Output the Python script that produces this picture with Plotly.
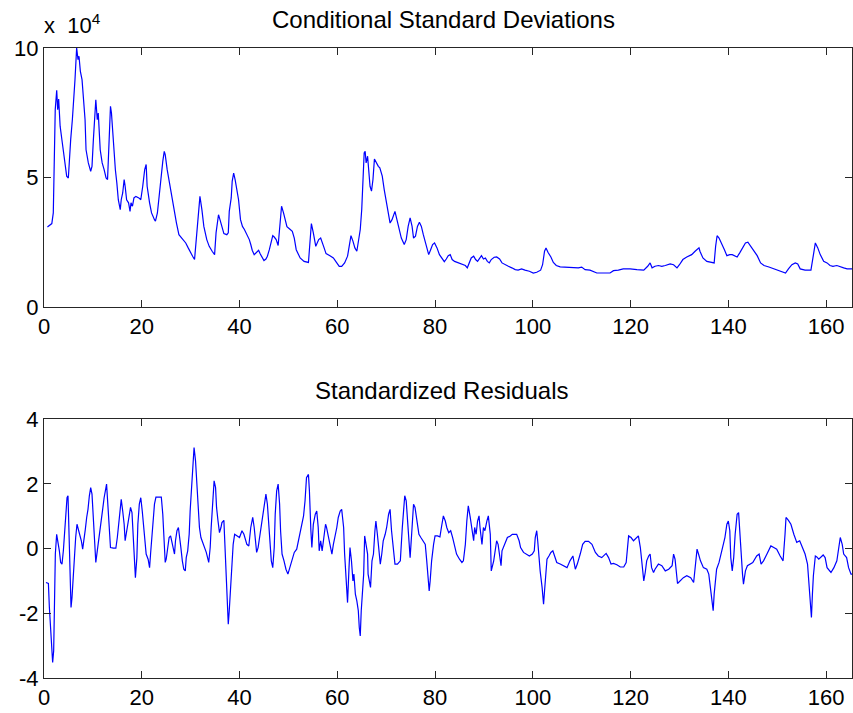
import plotly.graph_objects as go

# Conditional standard deviations (units of 1e4)
sd_x = [
    0.7, 1.6, 1.9, 2.05, 2.3, 2.6, 2.8, 3.0, 3.3, 3.75,
    4.16, 4.64, 4.98, 5.18, 5.46, 5.8, 6.0, 6.34, 6.68, 6.96,
    7.16, 7.44, 7.78, 8.05, 8.4, 8.6, 9.07, 9.55, 9.82, 10.1,
    10.4, 10.6, 10.9, 11.1, 11.5, 11.9, 12.3, 12.7, 13.0, 13.2,
    13.4, 13.6, 13.8, 14.0, 14.3, 14.6, 14.9, 15.2, 15.6, 15.8,
    16.1, 16.4, 16.6, 16.9, 17.3, 17.6, 17.8, 18.1, 18.4, 18.8,
    19.4, 19.8, 20.2, 20.6, 20.9, 21.1, 21.6, 22.0, 22.6, 22.8,
    23.2, 23.6, 24.0, 24.3, 24.6, 24.8, 25.2, 25.6, 26.1, 26.6,
    27.1, 27.6, 28.0, 28.5, 29.0, 29.5, 30.0, 30.4, 30.8, 31.2,
    31.7, 31.9, 32.3, 32.7, 33.3, 33.8, 34.4, 34.9, 35.2, 35.5,
    35.7, 36.0, 36.4, 36.8, 37.4, 37.7, 37.9, 38.3, 38.5, 38.8,
    39.1, 39.4, 39.8, 40.2, 40.6, 41.0, 41.5, 42.0, 42.3, 42.6,
    43.0, 43.4, 43.9, 44.2, 44.6, 45.0, 45.4, 45.7, 46.1, 46.5,
    46.8, 47.1, 47.5, 47.9, 48.2, 48.4, 48.6, 49.0, 49.3, 49.7,
    50.2, 50.8, 51.2, 51.6, 52.4, 53.2, 54.1, 54.4, 54.7, 55.1,
    55.6, 56.2, 56.6, 57.2, 57.7, 58.5, 59.2, 59.9, 60.4, 60.9,
    61.5, 62.1, 62.4, 62.8, 63.2, 63.6, 64.0, 64.3, 64.7, 65.0,
    65.2, 65.5, 65.7, 65.9, 66.2, 66.4, 66.7, 67.0, 67.3, 67.6,
    67.9, 68.4, 68.7, 69.2, 69.6, 70.0, 70.4, 70.8, 71.2, 71.5,
    71.8, 72.2, 72.6, 73.1, 73.7, 74.1, 74.5, 74.9, 75.3, 75.6,
    76.0, 76.4, 76.8, 77.2, 77.6, 78.2, 78.7, 79.1, 79.5, 79.9,
    80.4, 80.9, 81.5, 81.9, 82.3, 82.7, 83.1, 83.5, 84.0, 84.7,
    85.5, 86.2, 86.6, 87.0, 87.4, 87.9, 88.3, 88.7, 89.1, 89.5,
    89.9, 90.3, 90.7, 91.1, 91.5, 92.1, 92.6, 93.2, 93.7, 94.3,
    95.0, 95.7, 96.4, 97.0, 97.7, 98.4, 99.3, 100.1, 100.8, 101.6,
    102.0, 102.4, 102.7, 103.1, 103.7, 104.2, 104.8, 105.6, 107.0, 108.3,
    109.3, 110.0, 110.7, 111.7, 113.1, 114.4, 115.8, 116.5, 117.5, 118.5,
    119.9, 121.3, 122.7, 123.5, 124.0, 124.4, 125.0, 125.7, 126.4, 127.1,
    127.6, 128.1, 128.8, 129.5, 130.0, 130.7, 131.5, 132.5, 133.2, 134.0,
    134.2, 134.8, 135.6, 136.6, 137.1, 137.4, 137.7, 138.1, 138.6, 139.2,
    139.7, 140.3, 140.8, 141.2, 141.8, 142.3, 142.9, 143.5, 144.0, 144.5,
    145.2, 145.9, 146.6, 147.3, 148.3, 149.3, 150.4, 151.3, 151.7, 152.3,
    153.0, 153.7, 154.2, 154.7, 155.7, 156.9, 157.3, 157.8, 158.3, 158.8,
    159.5, 160.2, 160.8, 161.4, 162.2, 162.9, 163.6, 164.3, 165.3,
]
sd_val = [
    3.09, 3.22, 3.63, 5.62, 7.62, 8.37, 7.62, 8.03, 6.98, 6.33,
    5.69, 5.05, 4.98, 5.69, 6.46, 7.23, 8.0, 8.78, 10.0, 9.55,
    9.68, 9.1, 8.78, 8.0, 7.23, 6.07, 5.56, 5.24, 5.43, 6.46,
    7.55, 8.0, 7.23, 7.49, 6.07, 5.56, 5.30, 4.98, 4.92, 6.01,
    7.1, 7.75, 7.49, 6.85, 5.82, 5.30, 4.79, 4.14, 3.76, 4.14,
    4.40, 4.92, 4.66, 4.14, 4.02, 3.69, 4.02, 3.89, 4.21, 4.27,
    4.21, 4.14, 4.66, 5.30, 5.50, 4.66, 4.02, 3.63, 3.37, 3.31,
    3.63, 4.40, 5.17, 5.62, 6.01, 5.88, 5.30, 4.85, 4.27, 3.76,
    3.24, 2.79, 2.70, 2.60, 2.47, 2.28, 2.08, 1.96, 1.83, 2.79,
    3.89, 4.27, 3.76, 3.11, 2.60, 2.34, 2.15, 2.02, 2.86, 3.44,
    3.56, 3.37, 3.11, 2.83, 2.79, 2.86, 3.69, 4.21, 4.85, 5.17,
    4.92, 4.53, 4.14, 3.37, 3.11, 2.99, 2.79, 2.60, 2.41, 2.19,
    2.02, 2.08, 2.19, 2.06, 1.89, 1.79, 1.85, 1.96, 2.21, 2.47,
    2.75, 2.70, 2.60, 2.37, 3.11, 3.63, 3.89, 3.63, 3.35, 3.10,
    3.02, 2.92, 2.66, 2.21, 1.89, 1.76, 1.72, 2.60, 3.22, 2.86,
    2.34, 2.60, 2.66, 2.34, 2.06, 1.98, 1.89, 1.70, 1.57, 1.57,
    1.70, 1.96, 2.34, 2.75, 2.54, 2.28, 2.15, 2.60, 2.99, 3.76,
    4.53, 5.95, 6.01, 5.56, 5.82, 5.17, 4.66, 4.47, 4.92, 5.71,
    5.59, 5.43, 5.37, 5.05, 4.53, 4.14, 3.76, 3.24, 3.37, 3.56,
    3.69, 3.37, 3.05, 2.66, 2.41, 2.60, 3.11, 3.44, 3.11, 2.66,
    2.73, 3.11, 3.27, 3.11, 2.79, 2.34, 2.02, 2.21, 2.41, 2.47,
    2.28, 2.02, 1.83, 1.75, 1.85, 1.98, 2.02, 1.83, 1.76, 1.70,
    1.63, 1.60, 1.51, 1.70, 1.89, 1.96, 1.83, 1.76, 1.89, 1.98,
    1.85, 1.89, 1.76, 1.70, 1.83, 1.92, 1.93, 1.85, 1.70, 1.63,
    1.57, 1.51, 1.44, 1.42, 1.47, 1.42, 1.38, 1.31, 1.34, 1.42,
    1.63, 2.15, 2.28, 2.11, 1.93, 1.72, 1.60, 1.55, 1.53, 1.54,
    1.51, 1.54, 1.44, 1.42, 1.31, 1.31, 1.31, 1.40, 1.42, 1.47,
    1.47, 1.44, 1.42, 1.57, 1.70, 1.51, 1.57, 1.60, 1.57, 1.60,
    1.63, 1.66, 1.63, 1.51, 1.63, 1.83, 1.93, 2.02, 2.15, 2.28,
    2.15, 1.89, 1.76, 1.70, 1.70, 2.34, 2.75, 2.66, 2.47, 2.21,
    1.98, 2.02, 2.02, 1.98, 1.93, 2.08, 2.28, 2.47, 2.50, 2.37,
    2.21, 1.98, 1.70, 1.60, 1.54, 1.47, 1.42, 1.34, 1.31, 1.47,
    1.63, 1.70, 1.66, 1.47, 1.42, 1.42, 1.89, 2.47, 2.28, 2.02,
    1.76, 1.70, 1.60, 1.57, 1.60, 1.54, 1.51, 1.47, 1.47,
]

# Standardized residuals
resid_x = [
    0.4, 0.9, 1.1, 1.36, 1.57, 1.77, 1.98, 2.18, 2.32, 2.59,
    2.86, 3.14, 3.41, 3.68, 3.96, 4.23, 4.5, 4.71, 4.91, 5.12,
    5.32, 5.53, 5.73, 5.93, 6.21, 6.48, 6.75, 7.03, 7.3, 7.64,
    7.91, 8.19, 8.46, 8.73, 9.0, 9.28, 9.55, 9.82, 10.1, 10.4,
    10.6, 10.9, 11.2, 11.5, 11.7, 12.0, 12.3, 12.6, 12.8, 13.1,
    13.4, 13.6, 14.2, 14.7, 15.0, 15.3, 15.6, 15.8, 16.1, 16.4,
    16.6, 16.9, 17.2, 17.5, 17.7, 18.0, 18.3, 18.5, 18.7, 19.0,
    19.2, 19.5, 19.8, 20.1, 20.3, 20.6, 20.9, 21.3, 21.6, 21.8,
    22.1, 22.4, 22.6, 22.9, 23.5, 24.0, 24.3, 24.6, 24.8, 25.0,
    25.3, 25.6, 25.9, 26.1, 26.4, 26.7, 26.9, 27.2, 27.5, 27.8,
    28.0, 28.3, 28.6, 28.9, 29.1, 29.4, 29.7, 29.9, 30.2, 30.5,
    30.7, 31.0, 31.2, 31.5, 31.8, 32.1, 32.6, 33.2, 33.7, 34.0,
    34.2, 34.5, 34.8, 35.1, 35.3, 35.6, 35.9, 36.2, 36.4, 36.8,
    37.1, 37.4, 37.7, 37.9, 38.2, 38.5, 38.7, 39.0, 39.6, 40.0,
    40.5, 40.9, 41.5, 41.9, 42.3, 42.7, 43.0, 43.2, 43.5, 43.8,
    44.1, 44.3, 44.6, 44.9, 45.2, 45.4, 45.7, 46.0, 46.2, 46.5,
    46.8, 47.1, 47.3, 47.6, 47.9, 48.2, 48.4, 48.7, 49.1, 49.5,
    49.9, 50.3, 50.8, 51.2, 51.7, 52.1, 52.4, 52.7, 53.1, 53.4,
    53.7, 54.1, 54.3, 54.6, 54.8, 55.1, 55.5, 55.8, 56.1, 56.3,
    56.6, 56.9, 57.2, 57.6, 57.8, 58.2, 58.5, 58.9, 59.2, 59.6,
    59.9, 60.2, 60.6, 60.9, 61.3, 61.5, 61.8, 62.1, 62.4, 62.6,
    62.9, 63.2, 63.4, 63.7, 64.0, 64.3, 64.5, 64.7, 64.9, 65.2,
    65.4, 65.6, 65.9, 66.2, 66.3, 66.6, 66.8, 67.1, 67.4, 67.7,
    67.9, 68.2, 68.5, 68.8, 69.1, 69.4, 69.8, 70.1, 70.5, 70.8,
    71.1, 71.4, 71.8, 72.3, 72.9, 73.3, 73.5, 73.8, 74.1, 74.4,
    74.6, 74.9, 75.3, 75.6, 75.9, 76.3, 76.7, 77.1, 77.6, 78.0,
    78.3, 78.6, 78.8, 79.0, 79.3, 79.7, 80.0, 80.5, 81.0, 81.3,
    81.7, 82.1, 82.4, 82.8, 83.2, 83.6, 84.0, 84.4, 85.0, 85.5,
    85.8, 86.2, 86.5, 86.8, 87.2, 87.5, 87.9, 88.1, 88.4, 88.7,
    89.0, 89.2, 89.6, 89.9, 90.2, 90.6, 90.9, 91.3, 91.5, 92.0,
    92.3, 92.6, 92.9, 93.2, 93.5, 93.7, 94.0, 94.4, 94.8, 95.4,
    95.8, 96.2, 96.7, 97.2, 97.5, 98.1, 98.8, 99.3, 99.9, 100.3,
    100.5, 100.8, 101.0, 101.2, 101.5, 101.9, 102.2, 102.4, 102.7, 102.9,
    103.3, 103.7, 104.1, 104.5, 104.9, 105.6, 106.3, 107.0, 107.6, 108.2,
    108.7, 109.1, 109.7, 110.2, 110.7, 111.4, 112.1, 112.8, 113.4, 114.1,
    115.0, 115.5, 116.0, 116.5, 117.2, 117.9, 118.6, 119.1, 119.6, 120.1,
    120.6, 121.2, 121.6, 122.0, 122.3, 122.7, 123.0, 123.3, 123.7, 124.0,
    124.3, 124.7, 125.0, 125.7, 126.4, 127.1, 127.8, 128.5, 128.8, 129.1,
    129.6, 130.2, 130.8, 131.5, 132.3, 132.9, 133.2, 133.6, 133.9, 134.3,
    134.9, 135.6, 136.0, 136.3, 136.6, 136.9, 137.1, 137.4, 137.6, 138.1,
    138.5, 138.9, 139.3, 139.7, 140.0, 140.3, 140.5, 140.8, 141.1, 141.4,
    141.8, 142.1, 142.3, 142.6, 142.9, 143.1, 143.5, 143.9, 144.5, 145.0,
    145.8, 146.3, 146.7, 147.2, 147.9, 148.7, 149.3, 149.9, 150.6, 151.2,
    151.6, 151.8, 152.3, 152.8, 153.4, 154.0, 154.6, 155.0, 155.7, 156.2,
    156.5, 156.8, 157.0, 157.2, 157.4, 157.8, 158.1, 158.5, 158.9, 159.4,
    159.8, 160.2, 161.0, 161.6, 162.2, 162.6, 162.9, 163.3, 163.6, 164.2,
    164.6, 165.1, 165.3,
]
resid_val = [
    -1.05, -1.08, -1.82, -2.39, -2.95, -3.52, -3.16, -1.72, -0.17, 0.44,
    0.24, -0.07, -0.43, -0.48, -0.07, 0.65, 1.06, 1.57, 1.63, 0.44,
    -0.90, -1.82, -1.51, -0.90, -0.28, 0.34, 0.75, 0.60, 0.44, 0.24,
    -0.02, 0.24, 0.60, 0.96, 1.21, 1.63, 1.88, 1.68, 0.85, -0.07,
    -0.43, -0.07, 0.24, 0.60, 0.85, 1.21, 1.57, 1.93, 1.99, 1.27,
    0.55, 0.03, 0.01, 0.01, 0.34, 0.85, 1.37, 1.52, 1.16, 0.75,
    0.24, 0.55, 0.85, 1.06, 1.27, 1.11, 0.24, -0.59, -0.90, -0.28,
    0.75, 1.37, 1.57, 1.16, 0.75, 0.24, -0.17, -0.33, -0.59, -0.17,
    0.44, 0.96, 1.37, 1.59, 1.59, 1.59, 1.06, 0.24, -0.43, -0.33,
    0.03, 0.34, 0.39, 0.24, 0.08, -0.17, 0.24, 0.55, 0.65, 0.34,
    0.03, -0.38, -0.64, -0.69, -0.28, -0.07, 0.44, 1.16, 1.99, 2.60,
    3.12, 2.71, 2.09, 1.32, 0.65, 0.34, 0.13, -0.12, -0.43, 0.03,
    0.65, 1.37, 2.09, 1.88, 1.27, 0.85, 0.49, 0.65, 0.80, 0.87,
    -0.17, -1.41, -2.34, -1.92, -1.20, -0.48, 0.13, 0.44, 0.39, 0.34,
    0.55, 0.44, 0.13, 0.08, 0.65, 0.96, 0.65, 0.24, -0.12, 0.03,
    0.34, 0.65, 0.96, 1.16, 1.47, 1.68, 1.37, 0.75, 0.24, -0.38,
    -0.59, 0.03, 1.06, 1.78, 1.99, 1.37, 0.55, -0.17, -0.38, -0.64,
    -0.79, -0.59, -0.28, -0.12, -0.02, 0.29, 0.49, 0.65, 1.01, 1.47,
    2.19, 2.29, 1.78, 0.55, 0.03, 0.75, 1.06, 1.16, 0.65, -0.07,
    0.24, -0.07, 0.34, 0.75, 0.65, 0.34, 0.13, -0.17, 0.13, 0.39,
    0.65, 0.96, 1.16, 1.21, 0.65, -0.17, -1.00, -1.67, -0.59, 0.03,
    -0.38, -1.00, -0.79, -1.41, -1.62, -1.92, -2.44, -2.70, -1.92, -1.20,
    -0.79, 0.39, 0.03, -0.17, -0.79, -1.00, -1.20, -0.38, -0.17, 0.55,
    0.85, 0.44, -0.07, -0.48, -0.17, 0.24, 0.44, 0.65, 1.06, 1.21,
    0.55, 0.03, -0.48, -0.48, -0.38, 0.65, 1.06, 1.63, 1.47, 0.75,
    0.13, -0.28, 0.65, 1.37, 1.27, 0.85, 0.44, 0.34, 0.24, 0.13,
    -0.38, -1.00, -1.31, -1.00, -0.38, 0.13, 0.39, 0.39, 0.36, 0.65,
    1.01, 0.85, 0.65, 0.49, 0.55, 0.34, 0.03, -0.17, -0.33, -0.43,
    -0.38, 0.13, 0.85, 1.32, 0.96, 0.65, 0.24, 0.65, 0.44, 0.85,
    1.01, 0.65, 0.13, 0.65, 0.55, 0.85, 1.01, 0.44, -0.69, -0.38,
    -0.07, 0.24, 0.13, -0.28, -0.53, -0.07, 0.03, 0.19, 0.34, 0.39,
    0.44, 0.44, 0.44, 0.24, 0.03, -0.12, -0.17, -0.23, -0.17, -0.07,
    0.34, 0.55, 0.24, -0.17, -0.69, -1.20, -1.72, -1.31, -0.59, -0.33,
    -0.23, -0.12, -0.07, -0.23, -0.43, -0.48, -0.53, -0.59, -0.38, -0.23,
    -0.64, -0.48, -0.17, 0.13, 0.22, 0.22, 0.13, -0.12, -0.23, -0.28,
    -0.15, -0.28, -0.48, -0.46, -0.50, -0.57, -0.57, -0.43, 0.39, 0.34,
    0.24, 0.34, 0.39, 0.03, -0.48, -1.00, -0.74, -0.38, -0.23, -0.17,
    -0.59, -0.74, -0.64, -0.48, -0.53, -0.69, -0.64, -0.53, -0.17, -0.33,
    -1.08, -1.00, -0.90, -0.84, -0.90, -1.05, -0.59, -0.02, -0.17, -0.38,
    -0.59, -0.64, -0.79, -1.20, -1.62, -1.92, -1.41, -0.90, -0.64, -0.43,
    -0.17, 0.13, 0.34, 0.75, 0.85, 0.55, -0.28, -0.69, -0.28, 0.44,
    1.06, 1.11, 0.55, -0.28, -0.79, -1.10, -0.69, -0.53, -0.48, -0.43,
    -0.23, -0.17, -0.48, -0.38, -0.17, 0.08, 0.03, -0.02, -0.23, -0.38,
    0.44, 0.96, 0.87, 0.75, 0.44, 0.19, 0.24, 0.08, -0.17, -0.48,
    -1.10, -1.82, -2.13, -1.41, -0.84, -0.23, -0.26, -0.33, -0.28, -0.20,
    -0.28, -0.59, -0.74, -0.59, -0.38, 0.03, 0.34, 0.13, -0.17, -0.28,
    -0.59, -0.79, -0.79,
]

x_ticks = [0, 20, 40, 60, 80, 100, 120, 140, 160]
sd_ticks = [0, 5, 10]
sd_tick_labels = ["0", "5", "10"]
resid_ticks = [-4, -2, 0, 2, 4]
resid_tick_labels = ["-4", "-2", "0", "2", "4"]
x_max = 165.3

FONT = "Liberation Sans, Arial, Helvetica, sans-serif"
LINE_BLUE = "#0000ff"
AXIS_COLOR = "#262626"

fig = go.Figure()
fig.add_trace(go.Scatter(
    x=sd_x, y=sd_val, mode="lines",
    line=dict(color=LINE_BLUE, width=1.2),
    xaxis="x", yaxis="y", showlegend=False, hoverinfo="skip",
))
fig.add_trace(go.Scatter(
    x=resid_x, y=resid_val, mode="lines",
    line=dict(color=LINE_BLUE, width=1.2),
    xaxis="x2", yaxis="y2", showlegend=False, hoverinfo="skip",
))

axis_style = dict(
    showline=True, linecolor=AXIS_COLOR, linewidth=1, mirror="ticks",
    ticks="inside", ticklen=7, tickwidth=1, tickcolor=AXIS_COLOR,
    showgrid=False, zeroline=False,
    tickfont=dict(family=FONT, size=22, color="black"),
)

fig.update_layout(
    width=853, height=713,
    margin=dict(l=44, r=1, t=48, b=35),
    plot_bgcolor="white", paper_bgcolor="white",
    xaxis=dict(domain=[0, 1], anchor="y", range=[0, x_max],
               tickvals=x_ticks, **axis_style),
    yaxis=dict(domain=[0.589, 1], anchor="x", range=[0, 10],
               tickvals=sd_ticks, ticktext=sd_tick_labels, **axis_style),
    xaxis2=dict(domain=[0, 1], anchor="y2", range=[0, x_max],
                tickvals=x_ticks, **axis_style),
    yaxis2=dict(domain=[0, 0.411], anchor="x2", range=[-4, 4],
                tickvals=resid_ticks, ticktext=resid_tick_labels, **axis_style),
    annotations=[
        dict(text="Conditional Standard Deviations", xref="paper", yref="paper",
             x=0.495, y=1.045, xanchor="center", yanchor="middle", showarrow=False,
             font=dict(family=FONT, size=24, color="black")),
        dict(text="Standardized Residuals", xref="paper", yref="paper",
             x=0.493, y=0.456, xanchor="center", yanchor="middle", showarrow=False,
             font=dict(family=FONT, size=24, color="black")),
        dict(text="x  10<sup>4</sup>", xref="paper", yref="paper",
             x=-0.002, y=1.0, xanchor="left", yanchor="bottom", yshift=8,
             showarrow=False, font=dict(family=FONT, size=22, color="black")),
    ],
)

fig.write_html("out.html")
